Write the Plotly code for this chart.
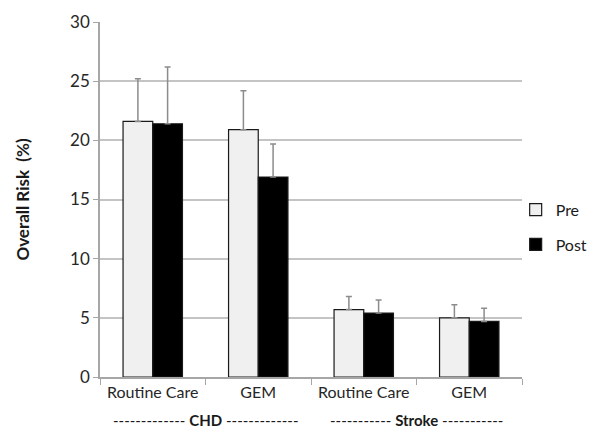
import plotly.graph_objects as go

categories = ["Routine Care", "GEM", "Routine Care ", "GEM "]
tick_labels = ["Routine Care", "GEM", "Routine Care", "GEM"]
pre_values = [21.6, 20.9, 5.7, 5.0]
post_values = [21.4, 16.9, 5.4, 4.7]
pre_err = [3.6, 3.3, 1.1, 1.1]
post_err = [4.8, 2.8, 1.1, 1.1]
group_labels = ["------------- <b>CHD</b> -------------", "----------- <b>Stroke</b> -----------"]
group_pos = [0.5, 2.5]

FONT = "Lato"

fig = go.Figure()
fig.add_trace(go.Bar(
    x=categories, y=pre_values, name="Pre", legendgroup="pre",
    marker=dict(color="#f0f0f0", line=dict(color="#1a1a1a", width=1.2)),
    error_y=dict(type="data", array=pre_err, symmetric=False, arrayminus=[0]*4,
                 color="#8c8c8c", thickness=1.5, width=3),
))
fig.add_trace(go.Bar(
    x=categories, y=post_values, name="Post", legendgroup="post",
    marker=dict(color="#000000", line=dict(color="#1a1a1a", width=1.2)),
    error_y=dict(type="data", array=post_err, symmetric=False, arrayminus=[0]*4,
                 color="#8c8c8c", thickness=1.5, width=3),
))

for lbl, pos in zip(group_labels, group_pos):
    fig.add_annotation(x=pos, xref="x", y=-0.12, yref="paper", yanchor="middle",
                       text=lbl, showarrow=False,
                       font=dict(family=FONT, size=15, color="#1a1a1a"))

fig.update_layout(
    width=587, height=421,
    margin=dict(l=92, r=73, t=14, b=52, autoexpand=False),
    paper_bgcolor="white", plot_bgcolor="white",
    barmode="group", bargap=0.437, bargroupgap=0,
    font=dict(family=FONT, size=15, color="#262626"),
    legend=dict(x=0.985, y=0.519, xanchor="left", yanchor="top",
                font=dict(family=FONT, size=16, color="#1a1a1a"),
                traceorder="grouped", tracegroupgap=11,
                itemwidth=30, bgcolor="rgba(0,0,0,0)"),
    xaxis=dict(
        tickmode="array", tickvals=categories, ticktext=tick_labels,
        tickson="boundaries", ticks="outside", ticklen=6, tickcolor="#a6a6a6",
        showline=True, linecolor="#a6a6a6", linewidth=1.5, automargin=False,
        showgrid=False, tickfont=dict(family=FONT, size=16, color="#262626"),
    ),
    yaxis=dict(
        range=[0, 30], tickvals=[0, 5, 10, 15, 20, 25, 30],
        ticks="outside", ticklen=5, tickcolor="#a6a6a6", automargin=False,
        showline=True, linecolor="#a6a6a6", linewidth=1.5,
        showgrid=True, gridcolor="#c4c4c4", gridwidth=1.5,
        zeroline=False,
        tickfont=dict(family=FONT, size=17, color="#262626"),
        title=dict(text="<b>Overall Risk  (%)</b>", standoff=36,
                   font=dict(family=FONT, size=17, color="#1a1a1a")),
    ),
)

fig.write_html("out.html")
